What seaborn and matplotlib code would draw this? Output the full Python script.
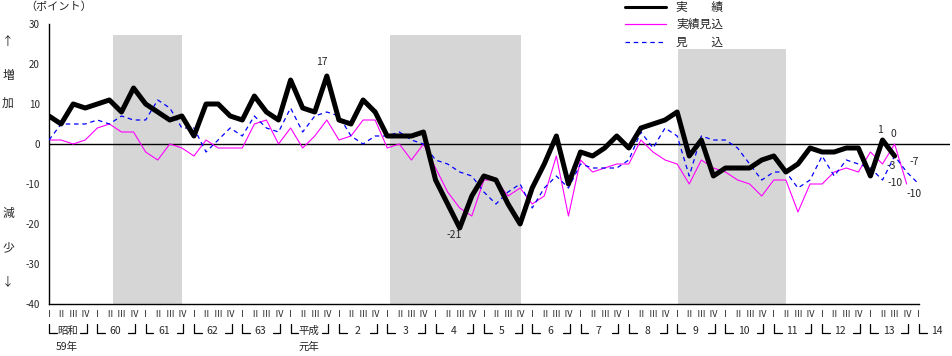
import numpy as np
import pandas as pd
import seaborn as sns
import matplotlib.pyplot as plt
from matplotlib.lines import Line2D
from matplotlib.ticker import MultipleLocator

# 四半期データ (昭和59年I期 = 0)
jisseki = [7, 5, 10, 9, 10, 11, 8, 14, 10, 8, 6, 7, 2, 10, 10, 7, 6, 12, 8, 6, 16, 9, 8, 17,
           6, 5, 11, 8, 2, 2, 2, 3, -9, -15, -21, -13, -8, -9, -15, -20,
           -11, -5, 2, -10, -2, -3, -1, 2, -1, 4, 5, 6, 8, -3, 1, -8,
           -6, -6, -6, -4, -3, -7, -5, -1, -2, -2, -1, -1, -8, 1, -3]
jisseki_mikomi = [1, 1, 0, 1, 4, 5, 3, 3, -2, -4, 0, -1, -3, 1, -1, -1, -1, 5, 6, 0, 4, -1, 2, 6,
                  1, 2, 6, 6, -1, 0, -4, 0, -6, -12, -16, -18, -9, -9, -13, -11,
                  -15, -13, -3, -18, -4, -7, -6, -5, -5, 1, -2, -4, -5, -10, -4, -6,
                  -7, -9, -10, -13, -9, -9, -17, -10, -10, -7, -6, -7, -2, -5, 0, -10]
mikomi = [1, 5, 5, 5, 6, 5, 7, 6, 6, 11, 9, 4, 4, -2, 1, 4, 2, 7, 4, 3, 9, 3, 7, 8,
          7, 2, 0, 2, 2, 3, 1, 0, -4, -5, -7, -8, -12, -15, -12, -10,
          -16, -11, -8, -11, -5, -6, -6, -6, -4, 3, -1, 4, 2, -8, 2, 1,
          1, -1, -5, -9, -7, -7, -11, -9, -3, -8, -4, -5, -6, -9, -3, -7, -10]

# 景気後退期 (網掛け)
shade_start = [5.3, 28.2, 52.1]
shade_end = [11.05, 39.05, 61.0]
shade_top = [27.25, 27.25, 23.75]

quarter_labels = ["Ⅰ", "Ⅱ", "Ⅲ", "Ⅳ"]
year_labels = ["昭和", "60", "61", "62", "63", "平成", "2", "3", "4", "5", "6", "7",
               "8", "9", "10", "11", "12", "13", "14"]

sns.set_style("white")
plt.rcParams["font.family"] = ["Noto Sans CJK JP", "DejaVu Sans"]
plt.rcParams["axes.unicode_minus"] = False

df_j = pd.DataFrame({"q": np.arange(len(jisseki)), "v": jisseki})
df_jm = pd.DataFrame({"q": np.arange(len(jisseki_mikomi)), "v": jisseki_mikomi})
df_m = pd.DataFrame({"q": np.arange(len(mikomi)), "v": mikomi})

W, H = 952, 356
fig = plt.figure(figsize=(W / 100, H / 100), dpi=100)
ax = fig.add_axes([49 / W, 52 / H, 901 / W, 280 / H])

# 網掛け
for s, e, t in zip(shade_start, shade_end, shade_top):
    ax.fill_between([s, e], -40, t, color="#d6d6d6", lw=0, zorder=0)

ax.axhline(0, color="black", lw=1, zorder=1.5)

sns.lineplot(x="q", y="v", data=df_jm, color="#ff00ff", lw=0.8, ax=ax, zorder=2)
sns.lineplot(x="q", y="v", data=df_m, color="#0000ff", lw=0.9, ls=(0, (3.6, 3.0)), ax=ax, zorder=3)
sns.lineplot(x="q", y="v", data=df_j, color="black", lw=3.6, ax=ax, zorder=4)

ax.set_xlim(0, 901 / 12.08)
ax.set_ylim(-40, 30)
ax.set_xlabel("")
ax.set_ylabel("")

for side in ["top", "right"]:
    ax.spines[side].set_visible(False)
ax.spines["left"].set_linewidth(1.0)
ax.spines["bottom"].set_linewidth(1.0)
ax.spines["bottom"].set_bounds(0, 72)
ax.spines["left"].set_color("black")
ax.spines["bottom"].set_color("black")

ax.set_yticks(range(-40, 31, 10))
ax.yaxis.set_minor_locator(MultipleLocator(1))
ax.tick_params(axis="y", which="major", direction="in", length=5, width=0.8, pad=6.5, labelsize=7)
ax.tick_params(axis="y", which="minor", direction="in", length=2.2, width=0.6)
ax.set_xticks(range(73))
ax.set_xticklabels([quarter_labels[i % 4] for i in range(73)])
ax.tick_params(axis="x", which="major", direction="in", length=2.5, width=0.8, pad=4.5, labelsize=6.5)

# 年の括弧
xt = ax.get_xaxis_transform()
y_top, y_bot = -0.0714, -0.1036
for k, lab in enumerate(year_labels):
    x0 = 4 * k
    ax.plot([x0, x0, x0 + 0.65], [y_top, y_bot, y_bot], color="black", lw=0.9,
            transform=xt, clip_on=False)
    if k < 18:
        x1 = 4 * k + 3.12
        ax.plot([x1 - 0.55, x1, x1], [y_bot, y_bot, y_top], color="black", lw=0.9,
                transform=xt, clip_on=False)
    ax.text(4 * k + 1.5, -0.096, lab, transform=xt, ha="center", va="center", fontsize=7.5)
ax.text(1.5, -0.152, "59年", transform=xt, ha="center", va="center", fontsize=7.5)
ax.text(21.5, -0.152, "元年", transform=xt, ha="center", va="center", fontsize=7.5)

# 数値ラベル
notes = [("17", 23, 17, -5, 14), ("-21", 34, -21, -6, -7), ("1", 69, 1, -3, 10),
         ("-3", 70, -3, -3, -10), ("0", 70, 0, -1, 10), ("-10", 71, -10, -12, 1),
         ("-7", 71, -7, 8, 10), ("-10", 72, -10, -5, -10)]
for txt, qx, qy, dx, dy in notes:
    ax.annotate(txt, (qx, qy), xytext=(dx, dy), textcoords="offset pixels",
                ha="center", va="center", fontsize=7.5)

# 左側の見出し
fig.text(59 / W, 1 - 7 / H, "（ポイント）", ha="center", va="center", fontsize=8)
for ch, py in [("↑", 42), ("増", 76), ("加", 103), ("減", 213), ("少", 248), ("↓", 282)]:
    fig.text(8 / W, 1 - py / H, ch, ha="center", va="center", fontsize=8.5)

# 凡例
leg = [("実　　績", "black", 2.2, "-", 7.3),
       ("実績見込", "#ff00ff", 0.9, "-", 24),
       ("見　　込", "#0000ff", 0.9, (0, (3.6, 3.0)), 42)]
for lab, c, lw, ls, py in leg:
    yy = 1 - py / H
    fig.add_artist(Line2D([625 / W, 666 / W], [yy, yy], color=c, lw=lw, ls=ls))
    fig.text(676 / W, yy, lab, ha="left", va="center", fontsize=8.5)

fig.savefig("out.png", dpi=100)
